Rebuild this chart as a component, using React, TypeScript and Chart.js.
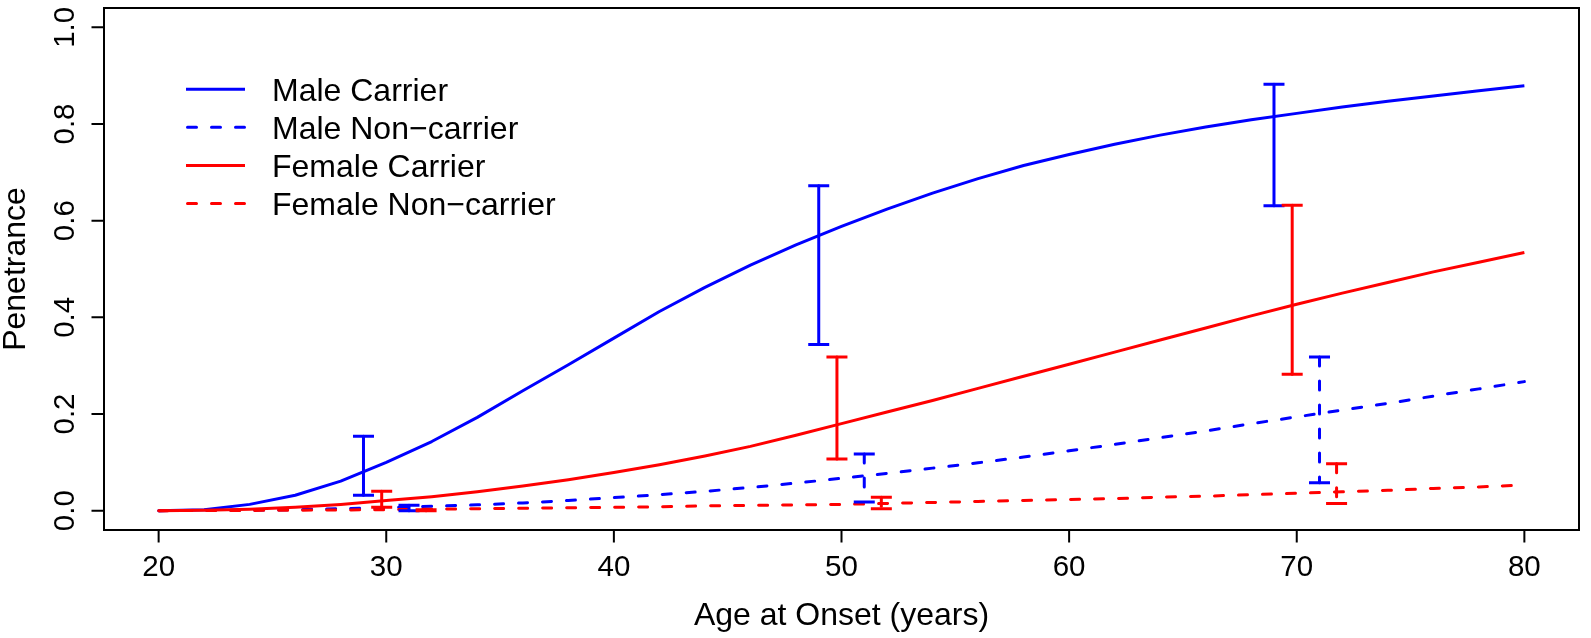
import React, { useEffect, useRef } from "react";
import { Chart, registerables } from "chart.js";

Chart.register(...registerables);

// ---------- data ----------
const ages = [20, 22, 24, 26, 28, 30, 32, 34, 36, 38, 40, 42, 44, 46, 48, 50, 52, 54, 56, 58, 60, 62, 64, 66, 68, 70, 72, 74, 76, 78, 80];

const maleCarrier = [0, 0.002, 0.013, 0.032, 0.061, 0.1, 0.143, 0.193, 0.248, 0.302, 0.357, 0.412, 0.462, 0.508, 0.55, 0.588, 0.624, 0.657, 0.687, 0.714, 0.737, 0.758, 0.777, 0.794, 0.809, 0.822, 0.835, 0.847, 0.858, 0.869, 0.879];
const maleNonCarrier = [0, 0.0005, 0.001, 0.002, 0.004, 0.006, 0.009, 0.012, 0.016, 0.021, 0.027, 0.033, 0.04, 0.048, 0.057, 0.067, 0.077, 0.088, 0.099, 0.111, 0.124, 0.137, 0.151, 0.165, 0.18, 0.194, 0.208, 0.222, 0.237, 0.252, 0.267];
const femaleCarrier = [0, 0.001, 0.003, 0.007, 0.013, 0.021, 0.029, 0.039, 0.051, 0.064, 0.079, 0.095, 0.113, 0.133, 0.156, 0.18, 0.204, 0.228, 0.253, 0.278, 0.303, 0.328, 0.353, 0.378, 0.403, 0.427, 0.45, 0.472, 0.494, 0.514, 0.534];
const femaleNonCarrier = [0, 0.0002, 0.0005, 0.001, 0.0015, 0.002, 0.003, 0.004, 0.005, 0.006, 0.007, 0.008, 0.01, 0.011, 0.012, 0.013, 0.015, 0.017, 0.019, 0.021, 0.023, 0.025, 0.028, 0.03, 0.033, 0.036, 0.039, 0.042, 0.046, 0.049, 0.053];

const ciAges = [30, 50, 70];
const maleCarrierLower = [0.032, 0.344, 0.631];
const maleCarrierUpper = [0.154, 0.672, 0.882];
const maleNonCarrierLower = [0.0, 0.018, 0.058];
const maleNonCarrierUpper = [0.011, 0.117, 0.318];
const femaleCarrierLower = [0.007, 0.107, 0.282];
const femaleCarrierUpper = [0.04, 0.318, 0.632];
const femaleNonCarrierLower = [0.0, 0.004, 0.015];
const femaleNonCarrierUpper = [0.002, 0.028, 0.097];

const seriesLabels = ["Male Carrier", "Male Non\u2212carrier", "Female Carrier", "Female Non\u2212carrier"];
const ciOffsets = [-1, 1, -0.2, 1.75];

const xTicks = [20, 30, 40, 50, 60, 70, 80];
const xTickLabels = ["20", "30", "40", "50", "60", "70", "80"];
const yTicks = [0, 0.2, 0.4, 0.6, 0.8, 1.0];
const yTickLabels = ["0.0", "0.2", "0.4", "0.6", "0.8", "1.0"];

const xTitle = "Age at Onset (years)";
const yTitle = "Penetrance";

// ---------- styles ----------
const BLUE = "#0000FF";
const RED = "#FF0000";
const FONT = '"Liberation Sans", Arial, Helvetica, sans-serif';
const DASH = [9, 15];
const LW = 3;

const seriesValues = [maleCarrier, maleNonCarrier, femaleCarrier, femaleNonCarrier];
const seriesColors = [BLUE, BLUE, RED, RED];
const seriesDashed = [false, true, false, true];
const ciLower = [maleCarrierLower, maleNonCarrierLower, femaleCarrierLower, femaleNonCarrierLower];
const ciUpper = [maleCarrierUpper, maleNonCarrierUpper, femaleCarrierUpper, femaleNonCarrierUpper];
const drawOrder = [4, 3, 2, 1];

const overlay = {
  id: "rOverlay",
  afterDatasetsDraw(chart: any) {
    const ctx: CanvasRenderingContext2D = chart.ctx;
    const { left, right, top, bottom } = chart.chartArea;
    const xs = chart.scales.x;
    const ys = chart.scales.y;

    ctx.save();
    // error bars
    ctx.lineCap = "round";
    for (let s = 0; s < 4; s++) {
      ctx.strokeStyle = seriesColors[s];
      ctx.lineWidth = LW;
      for (let i = 0; i < ciAges.length; i++) {
        const px = xs.getPixelForValue(ciAges[i] + ciOffsets[s]);
        const pLo = ys.getPixelForValue(ciLower[s][i]);
        const pHi = ys.getPixelForValue(ciUpper[s][i]);
        ctx.setLineDash(seriesDashed[s] ? DASH : []);
        ctx.beginPath();
        ctx.moveTo(px, pHi);
        ctx.lineTo(px, pLo);
        ctx.stroke();
        ctx.setLineDash([]);
        ctx.lineCap = "butt";
        ctx.beginPath();
        ctx.moveTo(px - 10.5, pHi);
        ctx.lineTo(px + 10.5, pHi);
        ctx.moveTo(px - 10.5, pLo);
        ctx.lineTo(px + 10.5, pLo);
        ctx.stroke();
        ctx.lineCap = "round";
      }
    }

    // box
    ctx.setLineDash([]);
    ctx.strokeStyle = "#000";
    ctx.lineWidth = 2;
    ctx.lineCap = "butt";
    ctx.strokeRect(left, top, right - left, bottom - top);

    // x ticks & labels
    ctx.fillStyle = "#000";
    ctx.font = `29.5px ${FONT}`;
    ctx.textAlign = "center";
    ctx.textBaseline = "alphabetic";
    ctx.beginPath();
    xTicks.forEach((v) => {
      const px = xs.getPixelForValue(v);
      ctx.moveTo(px, bottom);
      ctx.lineTo(px, bottom + 12.5);
    });
    ctx.stroke();
    xTicks.forEach((v, i) => {
      ctx.fillText(xTickLabels[i], xs.getPixelForValue(v), 576);
    });

    // y ticks & labels
    ctx.beginPath();
    yTicks.forEach((v) => {
      const py = ys.getPixelForValue(v);
      ctx.moveTo(left, py);
      ctx.lineTo(left - 12.5, py);
    });
    ctx.stroke();
    yTicks.forEach((v, i) => {
      const py = ys.getPixelForValue(v);
      ctx.save();
      ctx.translate(73.5, py);
      ctx.rotate(-Math.PI / 2);
      ctx.fillText(yTickLabels[i], 0, 0);
      ctx.restore();
    });

    // titles
    ctx.font = `32px ${FONT}`;
    ctx.fillText(xTitle, (left + right) / 2, 625);
    ctx.save();
    ctx.translate(24.5, (top + bottom) / 2);
    ctx.rotate(-Math.PI / 2);
    ctx.fillText(yTitle, 0, 0);
    ctx.restore();

    // legend
    ctx.textAlign = "left";
    for (let s = 0; s < 4; s++) {
      const ry = 89.3 + 38.05 * s;
      ctx.strokeStyle = seriesColors[s];
      ctx.lineWidth = LW;
      ctx.lineCap = seriesDashed[s] ? "round" : "butt";
      ctx.setLineDash(seriesDashed[s] ? DASH : []);
      ctx.beginPath();
      ctx.moveTo(seriesDashed[s] ? 187.5 : 186, ry);
      ctx.lineTo(245, ry);
      ctx.stroke();
      ctx.setLineDash([]);
      ctx.fillStyle = "#000";
      ctx.fillText(seriesLabels[s], 272, ry + 11.5);
    }
    ctx.restore();
  },
};

export default function App() {
  const ref = useRef<HTMLCanvasElement>(null);

  useEffect(() => {
    const datasets = seriesValues.map((vals, s) => ({
      label: seriesLabels[s],
      data: ages.map((a, i) => ({ x: a, y: vals[i] })),
      borderColor: seriesColors[s],
      backgroundColor: seriesColors[s],
      borderWidth: LW,
      borderDash: seriesDashed[s] ? DASH : [],
      borderCapStyle: seriesDashed[s] ? "round" : "butt",
      borderJoinStyle: "round",
      pointRadius: 0,
      pointHoverRadius: 0,
      tension: 0,
      fill: false,
      order: drawOrder[s],
    }));

    const chart = new Chart(ref.current as HTMLCanvasElement, {
      type: "line",
      data: { datasets: datasets as any },
      options: {
        animation: false,
        responsive: false,
        devicePixelRatio: 1,
        layout: { padding: { left: 104, right: 12, top: 8, bottom: 108 } },
        scales: {
          x: { type: "linear", min: 17.6, max: 82.4, display: false },
          y: { type: "linear", min: -0.04, max: 1.04, display: false },
        },
        plugins: { legend: { display: false }, tooltip: { enabled: false } },
        events: [],
      },
      plugins: [overlay],
    });
    return () => chart.destroy();
  }, []);

  return (
    <div style={{ position: "absolute", left: 0, top: 0, width: 1591, height: 638, background: "#fff" }}>
      <canvas ref={ref} width={1591} height={638} style={{ display: "block" }} />
    </div>
  );
}
